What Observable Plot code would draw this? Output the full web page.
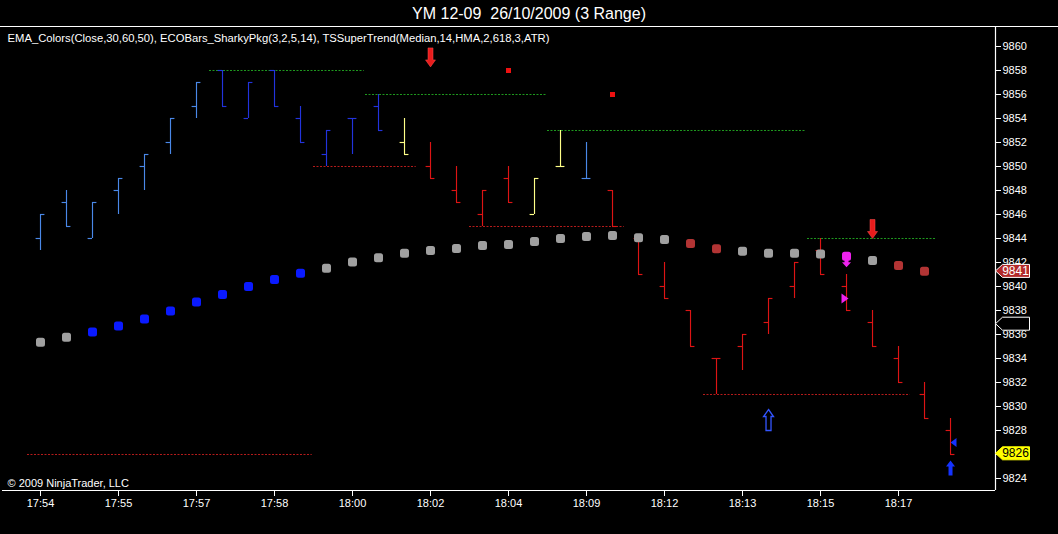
<!DOCTYPE html>
<html><head><meta charset="utf-8">
<script src="https://cdn.jsdelivr.net/npm/d3@7"></script>
<script src="https://cdn.jsdelivr.net/npm/@observablehq/plot@0.6"></script>
<style>
body{margin:0;background:#000;}
#title{height:26px;border-bottom:1px solid #fff;color:#fff;font:16px "Liberation Sans",Arial,sans-serif;text-align:center;line-height:27px;white-space:pre;}
</style></head><body>
<div id="title">YM 12-09  26/10/2009 (3 Range)</div>
<div id="chart"></div>
<script>
// ---- data ----
const timeLabels = ["17:54","17:55","17:57","17:58","18:00","18:02","18:04","18:09","18:12","18:13","18:15","18:17"];
const opens  = [9844,9847,9844,9848,9850,9852,9855,9858,9854,9858,9854,9851,9854,9855,9852,9850,9848,9846,9849,9846,9850,9849,9848,9844,9840,9838,9834,9835,9837,9840,9843,9840,9837,9834,9831,9828];
const highs  = [9846,9848,9847,9849,9851,9854,9857,9858,9857,9858,9855,9853,9854,9856,9854,9852,9850,9848,9850,9849,9853,9852,9848,9844,9842,9838,9834,9836,9839,9842,9844,9841,9838,9835,9832,9829];
const lows   = [9843,9845,9844,9846,9848,9851,9854,9855,9854,9855,9852,9850,9851,9853,9851,9849,9847,9845,9847,9846,9850,9849,9845,9841,9839,9835,9831,9833,9836,9839,9841,9838,9835,9832,9829,9826];
const closes = [9846,9845,9847,9849,9851,9854,9857,9855,9857,9855,9852,9853,9854,9853,9851,9849,9847,9848,9847,9849,9850,9849,9845,9841,9839,9835,9834,9836,9839,9842,9841,9838,9835,9832,9829,9826];
const barTone = ["L","L","L","L","L","L","L","D","D","D","D","D","D","D","Y","R","R","R","R","Y","Y","L","R","R","R","R","R","R","R","R","R","R","R","R","R","R"];
const emaValues = [9835.35,9835.78,9836.2,9836.7,9837.3,9837.95,9838.7,9839.33,9840.0,9840.58,9841.1,9841.53,9842.05,9842.4,9842.78,9843.0,9843.17,9843.42,9843.5,9843.75,9844.0,9844.17,9844.25,9844.06,9843.92,9843.58,9843.14,9842.94,9842.78,9842.78,9842.7,9842.53,9842.17,9841.75,9841.28,null];
const emaTone = ["G","G","B","B","B","B","B","B","B","B","B","G","G","G","G","G","G","G","G","G","G","G","G","G","G","R","R","G","G","G","G","M","G","R","R",null];
const resLevels = [9858, 9856, 9853, 9844];
const resStart  = [6.5, 12.5, 19.5, 29.5];
const resEnd    = [12.45, 19.45, 29.45, 34.45];
const supLevels = [9826, 9850, 9845, 9831];
const supStart  = [-0.5, 10.5, 16.5, 25.5];
const supEnd    = [10.45, 14.45, 22.45, 33.45];
const redSqBars = [18, 22];
const redSqVals = [9858, 9856];
const sellArrowBars = [15, 32];
const sellArrowVals = [9858.3, 9844];
const buyHollowBars = [28];
const buyHollowVals = [9829.75];
const buySolidBars = [35];
const buySolidVals = [9825.5];
const magArrowBars = [31];
const magArrowVals = [9841.6];
const magTriBars = [31];
const magTriVals = [9839];
const blueTriBars = [35];
const blueTriVals = [9827];
const markerVals   = [9841.3, 9836.9, 9826.1];
const markerLabels = ["9841", "", "9826"];
const markerKinds  = ["ema", "st", "last"];
const indicatorText = "EMA_Colors(Close,30,60,50), ECOBars_SharkyPkg(3,2,5,14), TSSuperTrend(Median,14,HMA,2,618,3,ATR)";
const copyright = "© 2009 NinjaTrader, LLC";

// ---- styling ----
const barColors = {L:"#4a88e8", D:"#2233dd", Y:"#ffff88", R:"#dd1414"};
const emaColors = {G:"#a0a0a0", B:"#0a1aff", R:"#b23434", M:"#ee22ee"};
const markerFill = {ema:"#b22a2a", st:"#000000", last:"#ffff00"};
const markerStroke = {ema:"#ffffff", st:"#ffffff", last:"#ffff00"};
const markerText = {ema:"#ffffff", st:"#ffffff", last:"#000000"};

const bars = opens.map((o,i)=>({i, open:o, high:highs[i], low:lows[i], close:closes[i], c:barColors[barTone[i]]}));
const ema = emaValues.map((v,i)=>({i, v, c: emaTone[i] ? emaColors[emaTone[i]] : null})).filter(d=>d.v!=null);
const res = resLevels.map((v,k)=>({v, s:resStart[k], e:resEnd[k]}));
const sup = supLevels.map((v,k)=>({v, s:supStart[k], e:supEnd[k]}));
const zip = (a,b)=>a.map((i,k)=>({i, v:b[k]}));
const markers = markerVals.map((v,k)=>({v, label:markerLabels[k], f:markerFill[markerKinds[k]], s:markerStroke[markerKinds[k]], t:markerText[markerKinds[k]]}));

function poly(pts){ return {draw(ctx){ ctx.moveTo(pts[0][0],pts[0][1]); for(let k=1;k<pts.length;k++) ctx.lineTo(pts[k][0],pts[k][1]); ctx.closePath(); }}; }
const roundSq = {draw(ctx){ const s=4.5, r=2.5;
  ctx.moveTo(-s+r,-s); ctx.lineTo(s-r,-s); ctx.arcTo(s,-s,s,-s+r,r); ctx.lineTo(s,s-r); ctx.arcTo(s,s,s-r,s,r);
  ctx.lineTo(-s+r,s); ctx.arcTo(-s,s,-s,s-r,r); ctx.lineTo(-s,-s+r); ctx.arcTo(-s,-s,-s+r,-s,r); ctx.closePath(); }};
const redDown = poly([[0,0],[-5,-7],[-2.5,-7],[-2.5,-19],[2.5,-19],[2.5,-7],[5,-7]]);
const hollowUp = poly([[0,0],[5,7],[2.5,7],[2.5,21],[-2.5,21],[-2.5,7],[-5,7]]);
const solidUp = poly([[0,0],[4.5,6],[2,6],[2,15],[-2,15],[-2,6],[-4.5,6]]);
const magDown = poly([[0,0],[-4.5,-5],[-2,-5],[-2,-9],[2,-9],[2,-5],[4.5,-5]]);
const rightTri = poly([[4,0],[-3,-5],[-3,5]]);
const leftTri = poly([[-3,0],[3,-4.5],[3,4.5]]);
const pentagon = poly([[0,0],[7,-6.5],[34,-6.5],[34,6.5],[7,6.5]]);
const sq = poly([[-2.5,-2.5],[2.5,-2.5],[2.5,2.5],[-2.5,2.5]]);

const xDomain = [-1.4615, 36.73];
const yDomain = [9823, 9861.583];
const yTicks = d3.range(9824, 9861, 2);
const xTicks = timeLabels.map((_,k)=>k*3);

const chart = Plot.plot({
  width: 1058, height: 507,
  marginLeft: 2, marginRight: 63, marginTop: 0, marginBottom: 44,
  x: {type:"linear", domain: xDomain},
  y: {type:"linear", domain: yDomain},
  color: {type:"identity"},
  style: {background:"#000", color:"#fff", fontFamily:"'Liberation Sans', Arial, sans-serif", fontSize:"11px", overflow:"visible"},
  marks: [
    Plot.ruleY(res, {y:"v", x1:"s", x2:"e", stroke:"#1f9a1f", strokeDasharray:"2,1.5", strokeWidth:1}),
    Plot.ruleY(sup, {y:"v", x1:"s", x2:"e", stroke:"#b81c1c", strokeDasharray:"2,1.5", strokeWidth:1}),
    Plot.ruleX(bars, {x:"i", y1:"low", y2:"high", stroke:"c", strokeWidth:1.15}),
    Plot.ruleY(bars, {y:"open", x1:d=>d.i-0.17, x2:"i", stroke:"c", strokeWidth:1.15}),
    Plot.ruleY(bars, {y:"close", x1:"i", x2:d=>d.i+0.17, stroke:"c", strokeWidth:1.15}),
    Plot.dot(ema, {x:"i", y:"v", fill:"c", symbol:roundSq, r:5}),
    Plot.dot(zip(redSqBars, redSqVals), {x:"i", y:"v", fill:"#ee1111", symbol:sq}),
    Plot.dot(zip(sellArrowBars, sellArrowVals), {x:"i", y:"v", fill:"#e81c1c", stroke:"#ff5050", strokeWidth:0.5, symbol:redDown}),
    Plot.dot(zip(buyHollowBars, buyHollowVals), {x:"i", y:"v", fill:"#000", stroke:"#3355ff", strokeWidth:1.3, symbol:hollowUp}),
    Plot.dot(zip(buySolidBars, buySolidVals), {x:"i", y:"v", fill:"#1533ff", stroke:"none", symbol:solidUp}),
    Plot.dot(zip(magArrowBars, magArrowVals), {x:"i", y:"v", fill:"#ee22ee", stroke:"none", symbol:magDown}),
    Plot.dot(zip(magTriBars, magTriVals), {x:"i", y:"v", dx:-2, fill:"#ee22ee", stroke:"none", symbol:rightTri}),
    Plot.dot(zip(blueTriBars, blueTriVals), {x:"i", y:"v", dx:3, fill:"#1533ff", stroke:"none", symbol:leftTri}),
    Plot.ruleY([yDomain[0]], {stroke:"#fff", strokeWidth:1.2}),
    Plot.ruleX([xDomain[1]], {stroke:"#fff", strokeWidth:1.2}),
    Plot.axisY({anchor:"right", ticks:yTicks, tickFormat:d=>String(d), tickSize:5, tickPadding:2, color:"#fff", fontSize:11}),
    Plot.axisX({anchor:"bottom", ticks:xTicks, tickFormat:i=>timeLabels[Math.round(i/3)], tickSize:6, tickPadding:3, color:"#fff", fontSize:11}),
    Plot.dot(markers, {y:"v", frameAnchor:"right", fill:"f", stroke:"s", strokeWidth:1, symbol:pentagon}),
    Plot.text(markers, {y:"v", text:"label", frameAnchor:"right", dx:20, fill:"t", fontSize:12, textAnchor:"middle"}),
    Plot.text([indicatorText], {text:d=>d, frameAnchor:"top-left", dx:5, dy:11, lineAnchor:"middle", textAnchor:"start", fill:"#fff", fontSize:11.25}),
    Plot.text([copyright], {text:d=>d, frameAnchor:"bottom-left", dx:5, dy:-7, lineAnchor:"middle", textAnchor:"start", fill:"#fff", fontSize:11})
  ]
});
document.getElementById("chart").appendChild(chart);
</script>
</body></html>
